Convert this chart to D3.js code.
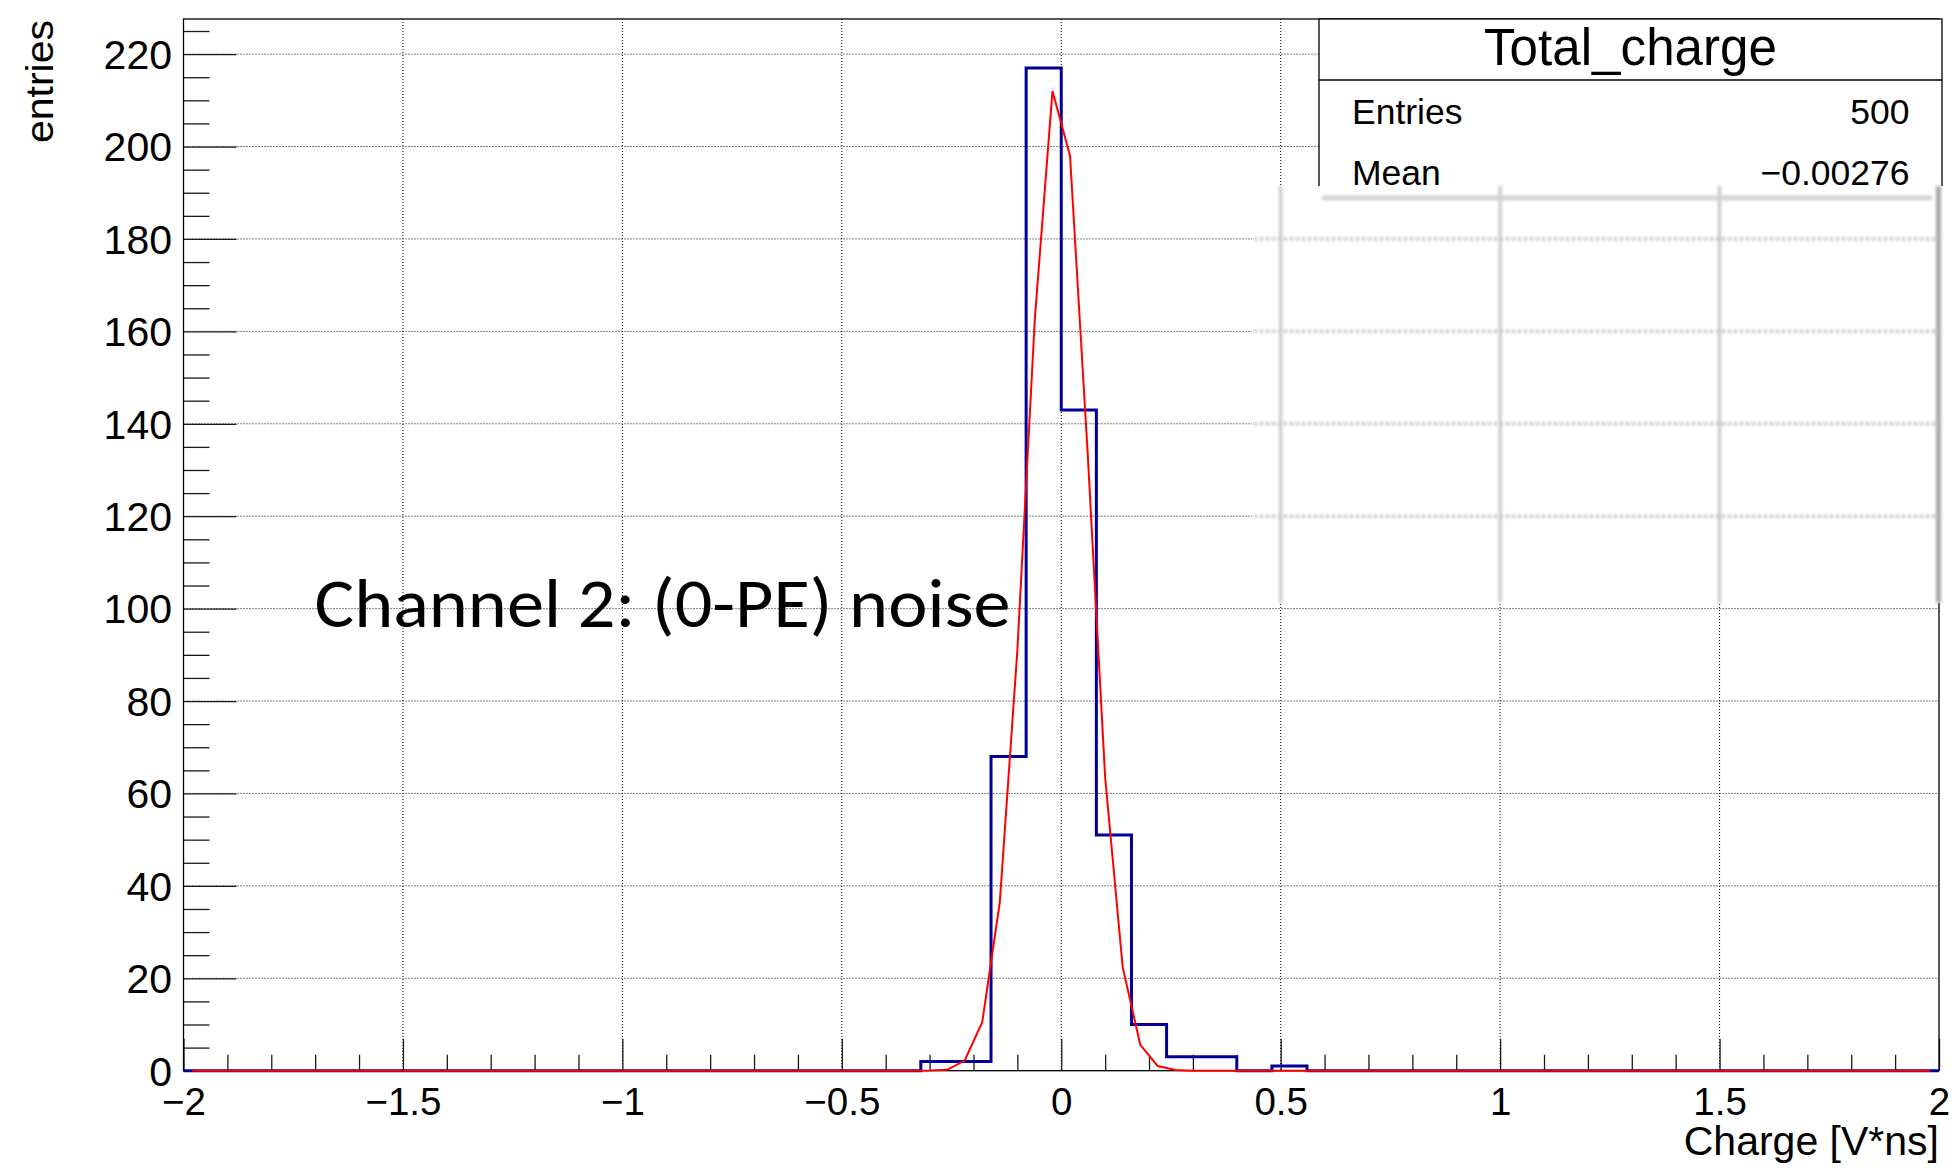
<!DOCTYPE html>
<html>
<head>
<meta charset="utf-8">
<script src="https://cdn.jsdelivr.net/npm/d3@7"></script>
<style>
  html, body { margin: 0; padding: 0; background: #fff; }
  svg { display: block; }
  text { font-family: "Liberation Sans", Arial, Helvetica, sans-serif; }
</style>
</head>
<body>
<svg id="chart" width="1957" height="1168"></svg>
<script>
// ---- Histogram: Total_charge, 50 bins over [-2, 2] ----
const binLow = -2;
const binWidth = 0.08;
const counts = [
  0, 0, 0, 0, 0, 0, 0, 0, 0, 0,
  0, 0, 0, 0, 0, 0, 0, 0, 0, 0,
  0, 2, 2, 68, 217, 143, 51, 10, 3, 3,
  0, 1, 0, 0, 0, 0, 0, 0, 0, 0,
  0, 0, 0, 0, 0, 0, 0, 0, 0, 0
];

// ---- Gaussian fit curve, sampled points ----
const fitX = [-1.98, -0.34, -0.30, -0.26, -0.22, -0.18, -0.14, -0.10, -0.06, -0.02,
              0.02, 0.06, 0.10, 0.14, 0.18, 0.22, 0.26, 0.30, 1.98];
const fitY = [0, 0, 0.05, 0.2, 2.2, 10.5, 36.5, 91, 163, 212,
              198, 134, 63.5, 22.4, 5.6, 1.0, 0.15, 0, 0];

// ---- Axes ----
const xTicks = [-2, -1.5, -1, -0.5, 0, 0.5, 1, 1.5, 2];
const xTickLabels = ["\u22122", "\u22121.5", "\u22121", "\u22120.5", "0", "0.5", "1", "1.5", "2"];
const yTicks = [0, 20, 40, 60, 80, 100, 120, 140, 160, 180, 200, 220];
const yTickLabels = ["0", "20", "40", "60", "80", "100", "120", "140", "160", "180", "200", "220"];
const xTitle = "Charge [V*ns]";
const yTitle = "entries";

// ---- Statistics box ----
const statsTitle = "Total_charge";
const statsRows = [["Entries", "500"], ["Mean", "\u22120.00276"]];
const annotation = "Channel 2: (0-PE) noise";

const W = 1957, H = 1168;
const frame = { left: 183.5, right: 1939, top: 19, bottom: 1070.7 };

const x = d3.scaleLinear().domain([-2, 2]).range([frame.left, frame.right]);
const y = d3.scaleLinear().domain([0, 227.6]).range([frame.bottom, frame.top]);

const svg = d3.select("#chart");
const defs = svg.append("defs");
defs.append("filter").attr("id", "soft")
  .attr("x", "-5%").attr("y", "-5%").attr("width", "110%").attr("height", "110%")
  .append("feGaussianBlur").attr("stdDeviation", 1.6);

svg.append("rect").attr("width", W).attr("height", H).attr("fill", "#fff");

// dotted grid at major ticks
const grid = svg.append("g")
  .attr("stroke", "#000").attr("stroke-width", 1).attr("stroke-dasharray", "1,2");
grid.selectAll("line.gx").data(xTicks.slice(1, -1)).join("line")
  .attr("class", "gx")
  .attr("x1", d => x(d)).attr("x2", d => x(d))
  .attr("y1", frame.top).attr("y2", frame.bottom);
grid.selectAll("line.gy").data(yTicks.slice(1)).join("line")
  .attr("class", "gy")
  .attr("x1", frame.left).attr("x2", frame.right)
  .attr("y1", d => y(d)).attr("y2", d => y(d));

// axes: major and minor ticks pointing into the frame
const xMinor = d3.range(-2, 2.0001, 0.1).map(v => +v.toFixed(2))
  .filter(v => !xTicks.some(t => Math.abs(t - v) < 1e-6));
const yMinor = d3.range(0, 227, 5).filter(v => v % 20 !== 0);

const xAxisG = svg.append("g").attr("transform", `translate(0,${frame.bottom})`);
xAxisG.append("g").call(
  d3.axisBottom(x).tickValues(xMinor).tickFormat("").tickSizeInner(-16).tickSizeOuter(0));
xAxisG.append("g").call(
  d3.axisBottom(x).tickValues(xTicks).tickFormat((d, i) => xTickLabels[i])
    .tickSizeInner(-32).tickSizeOuter(0).tickPadding(16.5));

const yAxisG = svg.append("g").attr("transform", `translate(${frame.left},0)`);
yAxisG.append("g").call(
  d3.axisLeft(y).tickValues(yMinor).tickFormat("").tickSizeInner(-26).tickSizeOuter(0));
yAxisG.append("g").call(
  d3.axisLeft(y).tickValues(yTicks).tickFormat((d, i) => yTickLabels[i])
    .tickSizeInner(-53).tickSizeOuter(0).tickPadding(11.5));

svg.selectAll(".domain").remove();
svg.selectAll(".tick line").attr("stroke", "#1a1a1a").attr("stroke-width", 1.3);
xAxisG.selectAll(".tick text")
  .attr("fill", "#000").style("font-size", "38.5px");
yAxisG.selectAll(".tick text")
  .attr("fill", "#000").style("font-size", "41px").attr("dy", "0.35em");

// frame
svg.append("rect")
  .attr("x", frame.left).attr("y", frame.top)
  .attr("width", frame.right - frame.left).attr("height", frame.bottom - frame.top)
  .attr("fill", "none").attr("stroke", "#000").attr("stroke-width", 1.3);

// histogram outline
const histPts = counts.map((c, i) => [binLow + i * binWidth, c]);
histPts.push([binLow + counts.length * binWidth, counts[counts.length - 1]]);
svg.append("path")
  .datum(histPts)
  .attr("fill", "none").attr("stroke", "#000099").attr("stroke-width", 3)
  .attr("stroke-linejoin", "miter")
  .attr("d", d3.line().x(d => x(d[0])).y(d => y(d[1])).curve(d3.curveStepAfter));

// fit curve
svg.append("path")
  .datum(fitX.map((v, i) => [v, fitY[i]]))
  .attr("fill", "none").attr("stroke", "#ff0000").attr("stroke-width", 2)
  .attr("d", d3.line().x(d => x(d[0])).y(d => y(d[1])));

// statistics box
const box = { left: 1319, right: 1942, top: 19, titleBottom: 80, bottom: 263 };
svg.append("rect")
  .attr("x", box.left).attr("y", box.top)
  .attr("width", box.right - box.left).attr("height", box.bottom - box.top)
  .attr("fill", "#fff").attr("stroke", "#000").attr("stroke-width", 1.3);
svg.append("line")
  .attr("x1", box.left).attr("x2", box.right)
  .attr("y1", box.titleBottom).attr("y2", box.titleBottom)
  .attr("stroke", "#000").attr("stroke-width", 1.3);
svg.append("text")
  .attr("x", (box.left + box.right) / 2).attr("y", 65)
  .attr("text-anchor", "middle").style("font-size", "51px").attr("fill", "#000")
  .attr("textLength", 293).attr("lengthAdjust", "spacingAndGlyphs")
  .text(statsTitle);
statsRows.forEach((r, i) => {
  const by = 124 + i * 61;
  svg.append("text").attr("x", 1352).attr("y", by)
    .style("font-size", "35.5px").attr("fill", "#000").text(r[0]);
  svg.append("text").attr("x", 1909.5).attr("y", by)
    .attr("text-anchor", "end").style("font-size", "35.5px").attr("fill", "#000").text(r[1]);
});

// pasted patch covering the lower part of the statistics box
const patch = { left: 1252, right: 1957, top: 186, bottom: 603 };
svg.append("rect")
  .attr("x", patch.left).attr("y", patch.top)
  .attr("width", patch.right - patch.left).attr("height", patch.bottom - patch.top)
  .attr("fill", "#fff");
const soft = svg.append("g").attr("filter", "url(#soft)");
soft.selectAll("line.ph").data([180, 160, 140, 120]).join("line")
  .attr("class", "ph")
  .attr("x1", patch.left + 2).attr("x2", 1938)
  .attr("y1", d => y(d)).attr("y2", d => y(d))
  .attr("stroke", "#b4b4b4").attr("stroke-width", 3).attr("stroke-dasharray", "3,3");
soft.selectAll("line.pv").data([0.5, 1, 1.5]).join("line")
  .attr("class", "pv")
  .attr("x1", d => x(d)).attr("x2", d => x(d))
  .attr("y1", patch.top).attr("y2", patch.bottom)
  .attr("stroke", "#c4c4c4").attr("stroke-width", 3);
soft.append("line")
  .attr("x1", 1322).attr("x2", 1932).attr("y1", 198).attr("y2", 198)
  .attr("stroke", "#d2d2d2").attr("stroke-width", 5);
soft.append("line")
  .attr("x1", 1938.5).attr("x2", 1938.5).attr("y1", patch.top).attr("y2", patch.bottom)
  .attr("stroke", "#a8a8a8").attr("stroke-width", 5);

// annotation (Calibri-like humanist face)
svg.append("text")
  .attr("x", 314.5).attr("y", 627)
  .style("font-family", "Carlito, Lato, 'Open Sans', sans-serif")
  .style("font-size", "70px").attr("fill", "#000")
  .attr("textLength", 696).attr("lengthAdjust", "spacingAndGlyphs")
  .text(annotation);

// axis titles
svg.append("text")
  .attr("x", frame.right).attr("y", 1155)
  .attr("text-anchor", "end").style("font-size", "41px").attr("fill", "#000")
  .text(xTitle);
svg.append("text")
  .attr("transform", "translate(53,20) rotate(-90)")
  .attr("text-anchor", "end").style("font-size", "39px").attr("fill", "#000")
  .attr("textLength", 123).attr("lengthAdjust", "spacingAndGlyphs")
  .text(yTitle);
</script>
</body>
</html>
